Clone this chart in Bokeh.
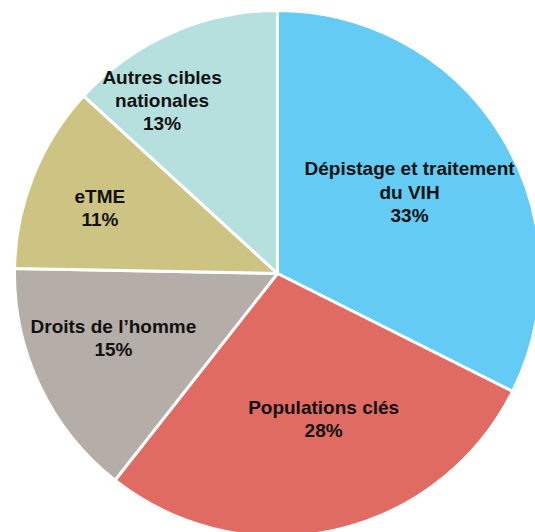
import numpy as np
from bokeh.plotting import figure
from bokeh.models import ColumnDataSource, Range1d
from bokeh.core.properties import value
from bokeh.embed import file_html
from bokeh.resources import INLINE

# Data (clockwise from 12 o'clock)
categories = ["Dépistage et traitement\ndu VIH", "Populations clés", "Droits de l’homme",
              "eTME", "Autres cibles\nnationales"]
shares = [32.4, 28.2, 14.7, 11.5, 13.2]          # slice sizes
pct_labels = ["33%", "28%", "15%", "11%", "13%"]  # printed labels
colors = ["#63CBF4", "#E06B63", "#B5ADA7", "#CDC483", "#B6E0DE"]

# Layout: label placement (angle offset in degrees from slice middle, radius fraction)
label_angle_offset = [0.0, 5.0, -4.0, 1.5, 10.0]
label_radius_frac = [0.59, 0.58, 0.67, 0.72, 0.79]

R = 263
vals = np.array(shares, dtype=float)
frac = vals / vals.sum()
cum = np.concatenate([[0], np.cumsum(frac)])
top = np.pi / 2
starts_cw = top - cum[:-1] * 2 * np.pi
ends_cw = top - cum[1:] * 2 * np.pi
mid = (starts_cw + ends_cw) / 2

src = ColumnDataSource(dict(start=ends_cw, end=starts_cw, color=colors))

p = figure(width=535, height=532, output_backend="svg", toolbar_location=None,
           x_range=Range1d(-277, 258), y_range=Range1d(-259, 273),
           min_border=0, min_border_left=0, min_border_right=0,
           min_border_top=0, min_border_bottom=0)
p.axis.visible = False
p.grid.visible = False
p.outline_line_color = None
p.background_fill_color = "white"
p.border_fill_color = "white"

p.wedge(x=0, y=0, radius=R, start_angle="start", end_angle="end",
        fill_color="color", line_color="white", line_width=3, source=src)

lx, ly, lt = [], [], []
for i in range(len(categories)):
    a = mid[i] + np.deg2rad(label_angle_offset[i])
    r = R * label_radius_frac[i]
    lx.append(r * np.cos(a))
    ly.append(r * np.sin(a))
    lt.append(categories[i] + "\n" + pct_labels[i])

p.text(x=lx, y=ly, text=lt, text_align="center", text_baseline="middle",
       text_font=value("Liberation Sans"), text_font_style="bold",
       text_font_size="19px", text_color="#111111", text_line_height=1.1)

open("out.html", "w").write(file_html(p, INLINE))
